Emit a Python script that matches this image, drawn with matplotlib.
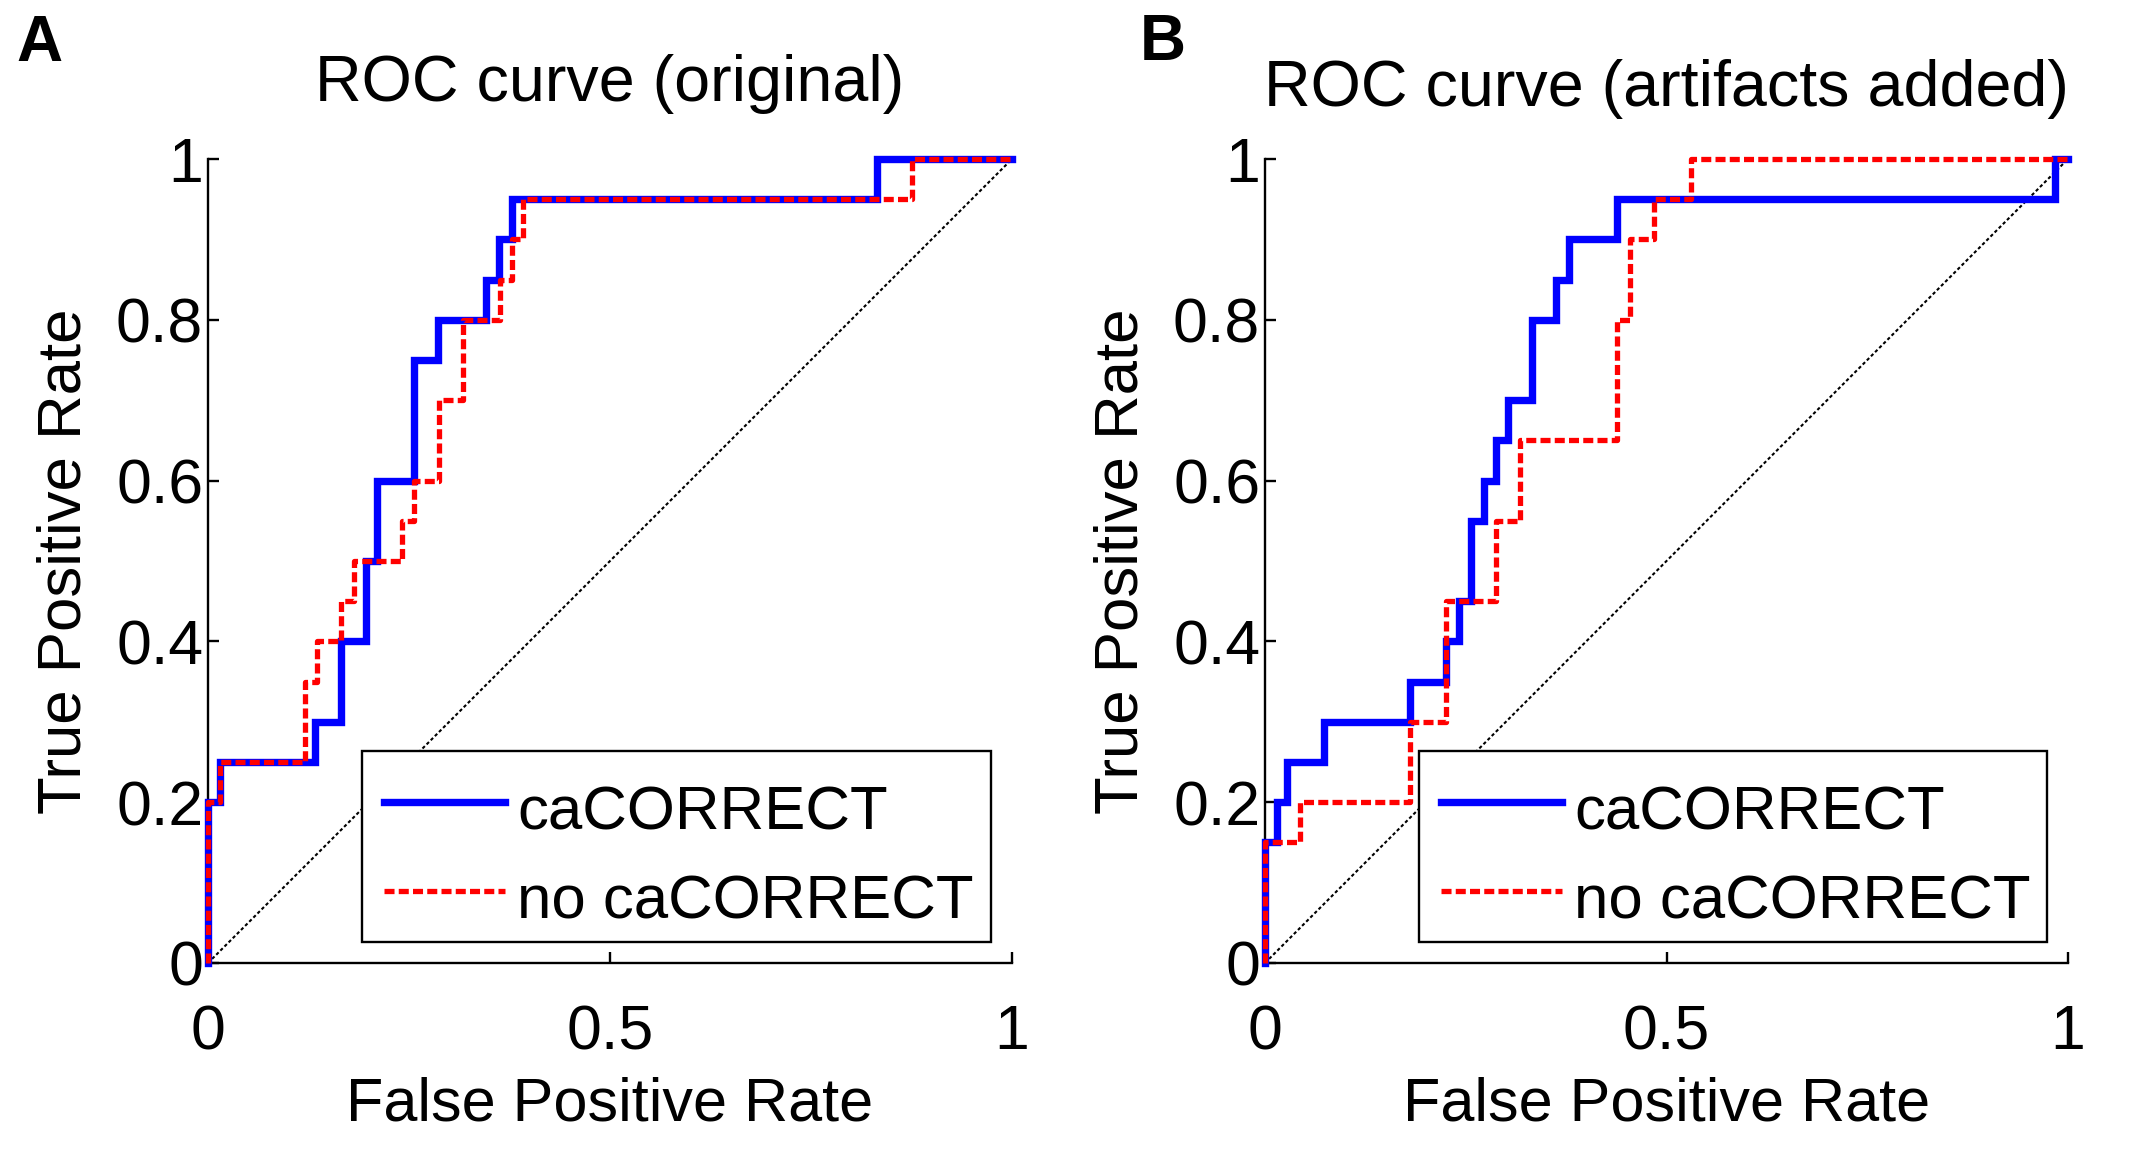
import matplotlib
matplotlib.use("Agg")
import matplotlib.pyplot as plt
import numpy as np

plt.rcParams['font.family'] = ['Liberation Sans', 'DejaVu Sans']

# ---- data ----
# Panel A: original
a_ca_fpr = [0.0, 0.0, 0.015, 0.015, 0.133, 0.133, 0.165, 0.165, 0.197, 0.197, 0.210, 0.210,
            0.256, 0.256, 0.286, 0.286, 0.346, 0.346, 0.362, 0.362, 0.378, 0.378, 0.832, 0.832, 1.0]
a_ca_tpr = [0.0, 0.20, 0.20, 0.25, 0.25, 0.30, 0.30, 0.40, 0.40, 0.50, 0.50, 0.60,
            0.60, 0.75, 0.75, 0.80, 0.80, 0.85, 0.85, 0.90, 0.90, 0.95, 0.95, 1.0, 1.0]
a_no_fpr = [0.0, 0.0, 0.015, 0.015, 0.121, 0.121, 0.135, 0.135, 0.165, 0.165, 0.182, 0.182,
            0.241, 0.241, 0.256, 0.256, 0.287, 0.287, 0.317, 0.317, 0.363, 0.363, 0.378, 0.378,
            0.392, 0.392, 0.876, 0.876, 1.0]
a_no_tpr = [0.0, 0.20, 0.20, 0.25, 0.25, 0.35, 0.35, 0.40, 0.40, 0.45, 0.45, 0.50,
            0.50, 0.55, 0.55, 0.60, 0.60, 0.70, 0.70, 0.80, 0.80, 0.85, 0.85, 0.90,
            0.90, 0.95, 0.95, 1.0, 1.0]

# Panel B: artifacts added
b_ca_fpr = [0.0, 0.0, 0.0146, 0.0146, 0.028, 0.028, 0.073, 0.073, 0.181, 0.181, 0.226, 0.226,
            0.241, 0.241, 0.257, 0.257, 0.273, 0.273, 0.288, 0.288, 0.303, 0.303, 0.333, 0.333,
            0.362, 0.362, 0.378, 0.378, 0.438, 0.438, 0.984, 0.984, 1.0]
b_ca_tpr = [0.0, 0.15, 0.15, 0.20, 0.20, 0.25, 0.25, 0.30, 0.30, 0.35, 0.35, 0.40,
            0.40, 0.45, 0.45, 0.55, 0.55, 0.60, 0.60, 0.65, 0.65, 0.70, 0.70, 0.80,
            0.80, 0.85, 0.85, 0.90, 0.90, 0.95, 0.95, 1.0, 1.0]
b_no_fpr = [0.0, 0.0, 0.044, 0.044, 0.181, 0.181, 0.226, 0.226, 0.288, 0.288, 0.317, 0.317,
            0.438, 0.438, 0.455, 0.455, 0.485, 0.485, 0.530, 0.530, 1.0]
b_no_tpr = [0.0, 0.15, 0.15, 0.20, 0.20, 0.30, 0.30, 0.45, 0.45, 0.55, 0.55, 0.65,
            0.65, 0.80, 0.80, 0.90, 0.90, 0.95, 0.95, 1.0, 1.0]

diag = [0.0, 1.0]

titles = ["ROC curve (original)", "ROC curve (artifacts added)"]
panel_letters = ["A", "B"]
legend_labels = ["caCORRECT", "no caCORRECT"]
xticks = [0, 0.5, 1]
xticklabels = ["0", "0.5", "1"]
yticks = [0, 0.2, 0.4, 0.6, 0.8, 1]
yticklabels = ["0", "0.2", "0.4", "0.6", "0.8", "1"]

W, H = 2137, 1169
fig = plt.figure(figsize=(W / 100, H / 100), dpi=100)

axes_px = [(208, 159, 804, 804), (1265, 159, 803, 804)]
panels = [(a_ca_fpr, a_ca_tpr, a_no_fpr, a_no_tpr), (b_ca_fpr, b_ca_tpr, b_no_fpr, b_no_tpr)]
title_pads = [42, 38]
letter_pos = [(16, 14), (1140, 13)]

for i, (l, t, w, h) in enumerate(axes_px):
    ax = fig.add_axes([l / W, 1 - (t + h) / H, w / W, h / H])
    cf, ct, nf, nt = panels[i]
    ax.plot(diag, diag, color='black', lw=1.5, ls=(0, (1.6, 1.2)), clip_on=False, zorder=2)
    ax.plot(cf, ct, color='#0000ff', lw=5.3, solid_joinstyle='miter', clip_on=False,
            label=legend_labels[0], zorder=3)
    ax.plot(nf, nt, color='#ff0000', lw=3.8, dashes=(1.9, 0.8), clip_on=False,
            label=legend_labels[1], zorder=4)
    ax.set_xlim(0, 1)
    ax.set_ylim(0, 1)
    ax.spines['top'].set_visible(False)
    ax.spines['right'].set_visible(False)
    for s in ['left', 'bottom']:
        ax.spines[s].set_linewidth(1.7)
    ax.set_xticks(xticks)
    ax.set_xticklabels(xticklabels)
    ax.set_yticks(yticks)
    ax.set_yticklabels(yticklabels)
    ax.tick_params(axis='both', direction='in', length=8, width=1.7, labelsize=45)
    ax.tick_params(axis='x', pad=29)
    ax.tick_params(axis='y', pad=3.5)
    ax.set_xlabel("False Positive Rate", fontsize=44, labelpad=10)
    ax.set_ylabel("True Positive Rate", fontsize=44.5, labelpad=16)
    ax.set_title(titles[i], fontsize=46.5, pad=title_pads[i])
    leg = ax.legend(loc='lower left', bbox_to_anchor=(0.1915, 0.026, 0.7825, 0.239),
                    mode='expand', fontsize=44.5, frameon=True, fancybox=False,
                    borderpad=0.36, labelspacing=0.52, handlelength=1.95,
                    handletextpad=0.2, borderaxespad=0.0)
    leg.get_frame().set_edgecolor('black')
    leg.get_frame().set_linewidth(1.7)
    leg.get_frame().set_alpha(None)
    # nudge legend texts / handles down to match reference placement
    for txt in leg.get_texts():
        txt.set_y(-12)
    for ln in leg.get_lines():
        ln.set_ydata(np.asarray(ln.get_ydata(), dtype=float) - 4.0)
    lx, ly = letter_pos[i]
    fig.text(lx / W, 1 - ly / H, panel_letters[i], fontsize=46, fontweight='bold',
             ha='left', va='top')

fig.savefig("out.png", dpi=100, facecolor='white')
